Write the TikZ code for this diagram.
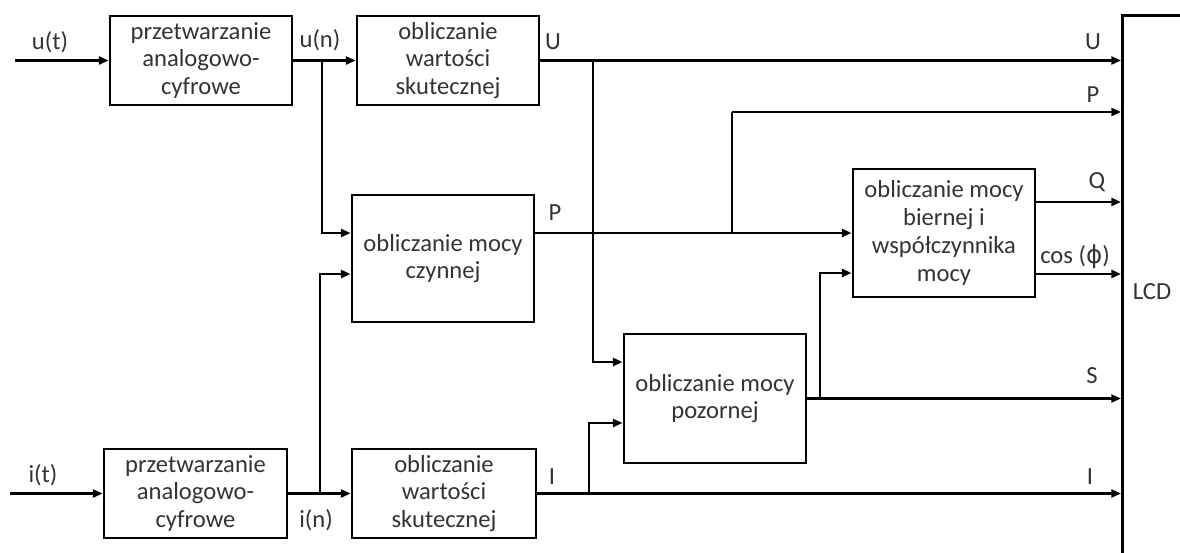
\documentclass[tikz,border=0pt]{standalone}
\usepackage{fontspec}
\setmainfont{Carlito}
\newfontfamily\symfont{DejaVu Sans}
\usepackage{xcolor}
\usepackage{tikz}
\usetikzlibrary{arrows.meta,positioning}

\tikzset{
    blok/.style={draw=black,line width=1.6pt,align=center,minimum width=3.64cm,inner sep=2pt},
    sig/.style={line width=1.4pt,-{Triangle[length=5.5pt,width=4.5pt]}},
    wire/.style={line width=1.4pt}
}

\begin{document}
\begin{tikzpicture}[x=0.02cm,y=-0.02cm,font=\fontsize{14}{15.8}\selectfont,text=black!80]
    \useasboundingbox (0,0) rectangle (1180,552);
    \clip (0,0) rectangle (1180,552);
    % Blocks
    \node[blok,minimum height=1.78cm] (adcU) at (201,60.5) {przetwarzanie\\analogowo-\\cyfrowe};
    \node[blok,minimum height=1.78cm] (rmsU) at (448,60.5) {obliczanie\\wartości\\skutecznej};
    \node[blok,minimum height=2.54cm] (czynna) at (443,258.5) {obliczanie mocy\\czynnej};
    \node[blok,minimum height=2.58cm] (pozorna) at (715,398.5) {obliczanie mocy\\pozornej};
    \node[blok,minimum height=2.56cm] (bierna) at (944,233) {obliczanie mocy\\biernej i\\współczynnika\\mocy};
    \node[blok,minimum height=1.78cm,minimum width=3.66cm] (adcI) at (195.5,493.5) {przetwarzanie\\analogowo-\\cyfrowe};
    \node[blok,minimum height=1.78cm,minimum width=3.68cm] (rmsI) at (444,493.5) {obliczanie\\wartości\\skutecznej};
    % LCD
    \node[draw,line width=1.6pt,anchor=north west,minimum width=1.7cm,minimum height=11cm] (lcd) at (1121,14) {};
    \node (lcdtxt) at (1152,292) {LCD};
    % Branch points
    \coordinate (uin) at (15,60.5);
    \coordinate (iin) at (10,493.5);
    \coordinate (un) at (322,60.5);
    \coordinate (in) at (320,493.5);
    \coordinate (uU) at (593,60.5);
    \coordinate (iI) at (589,493.5);
    \coordinate (pP) at (732,233);
    \coordinate (pTap) at (732,112);
    \coordinate (sS) at (820,398.5);
    % Voltage path
    \draw[sig] (uin) -- (adcU.west);
    \draw[sig] (adcU.east) -- (rmsU.west);
    \draw[sig] (un) |- ([yshift=0.51cm]czynna.west);
    \draw[sig] (rmsU.east) -- (rmsU -| lcd.west);
    \draw[sig] (uU) |- ([yshift=0.73cm]pozorna.west);
    % Current path
    \draw[sig] (iin) -- (adcI.west);
    \draw[sig] (adcI.east) -- (rmsI.west);
    \draw[sig] (in) |- ([yshift=-0.31cm]czynna.west);
    \draw[sig] (rmsI.east) -- (rmsI -| lcd.west);
    \draw[sig] (iI) |- ([yshift=-0.49cm]pozorna.west);
    % Power
    \draw[sig] (czynna.east |- bierna) -- (bierna.west);
    \draw[wire] (pP) -- (pTap);
    \draw[sig] (pTap) -- (pTap -| lcd.west);
    \draw[sig] (pozorna.east) -- (pozorna -| lcd.west);
    \draw[sig] (sS) |- ([yshift=-0.8cm]bierna.west);
    \draw[sig] ([yshift=0.62cm]bierna.east) -- ([yshift=0.62cm]bierna.east -| lcd.west);
    \draw[sig] ([yshift=-0.82cm]bierna.east) -- ([yshift=-0.82cm]bierna.east -| lcd.west);
    % Labels
    \node (lut) at (50,42) {u(t)};
    \node (lun) at (320,40) {u(n)};
    \node (lU1) at (553,42) {U};
    \node (lU2) at (1093,42) {U};
    \node (lP2) at (1093,95) {P};
    \node (lP1) at (555,213) {P};
    \node (lQ) at (1097,182) {Q};
    \node (lcos) at (1075,257) {cos ({\symfont ϕ})};
    \node (lS) at (1092,376) {S};
    \node (lI1) at (552,477) {I};
    \node (lI2) at (1090,477) {I};
    \node (lit) at (43,475) {i(t)};
    \node (lin) at (316,520) {i(n)};
\end{tikzpicture}
\end{document}
